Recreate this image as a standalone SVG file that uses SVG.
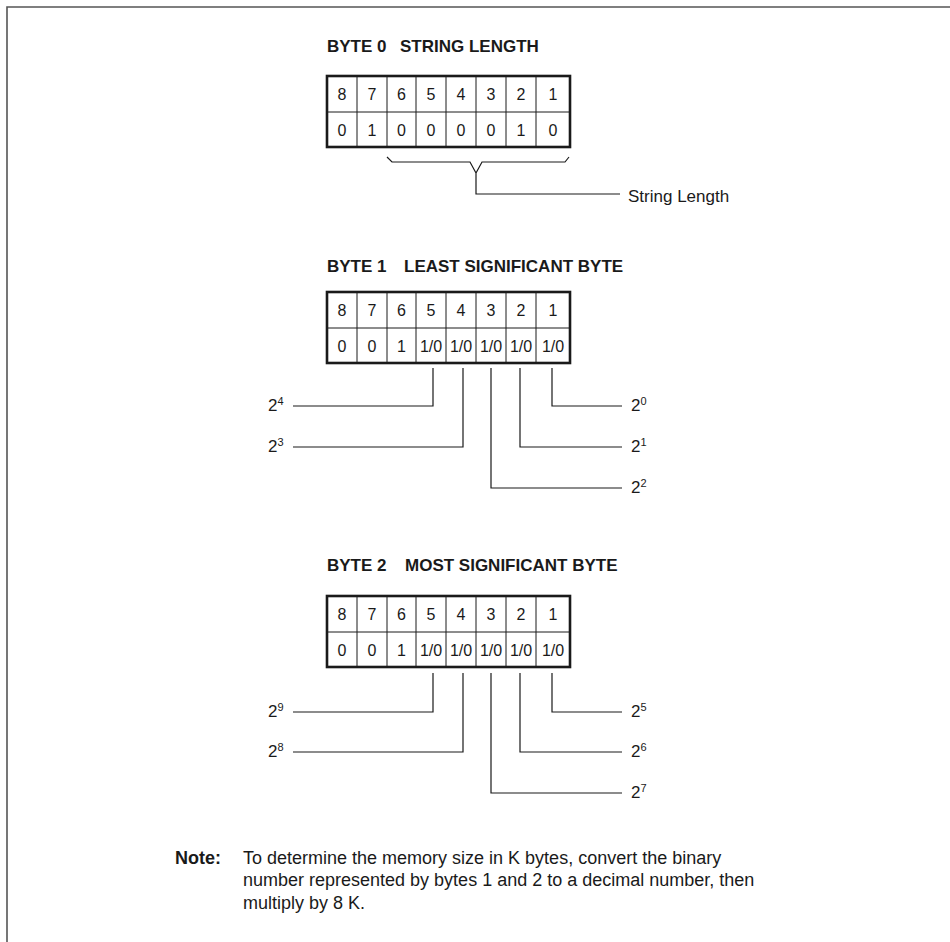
<svg xmlns="http://www.w3.org/2000/svg" width="950" height="942" viewBox="0 0 950 942">
<style>
text{font-family:"Liberation Sans",Arial,sans-serif;fill:#1a1a1a}
.t{font-size:17px;font-weight:bold}
.c{font-size:16px;text-anchor:middle}
.l{font-size:17px}
.n{font-size:18px}
.s{font-size:11px}
.outer{fill:none;stroke:#1a1a1a;stroke-width:2.6}
.inner{fill:none;stroke:#1a1a1a;stroke-width:1}
.ln{fill:none;stroke:#1a1a1a;stroke-width:1.2}
.frame{fill:none;stroke:#555;stroke-width:1.6}
</style>
<defs>
<g id="grid">
<path class="inner" d="M327,36H570M357,0V71M387,0V71M416,0V71M446,0V71M476,0V71M506,0V71M536,0V71"/>
<rect class="outer" x="327" y="0" width="243" height="71"/>
<text class="c" x="342" y="24">8</text><text class="c" x="372" y="24">7</text><text class="c" x="401.5" y="24">6</text><text class="c" x="431" y="24">5</text><text class="c" x="461" y="24">4</text><text class="c" x="491" y="24">3</text><text class="c" x="521" y="24">2</text><text class="c" x="553" y="24">1</text>
</g>
</defs>
<path class="frame" d="M7,942V7H950"/>

<g id="byte0">
<text class="t" x="327" y="52">BYTE 0<tspan x="400">STRING LENGTH</tspan></text>
<use href="#grid" y="76"/>
<g transform="translate(0,76)">
<text class="c" x="342" y="60">0</text><text class="c" x="372" y="60">1</text><text class="c" x="401.5" y="60">0</text><text class="c" x="431" y="60">0</text><text class="c" x="461" y="60">0</text><text class="c" x="491" y="60">0</text><text class="c" x="521" y="60">1</text><text class="c" x="553" y="60">0</text>
</g>
</g>

<g id="byte1">
<text class="t" x="327" y="272">BYTE 1<tspan x="404">LEAST SIGNIFICANT BYTE</tspan></text>
<use href="#grid" y="292"/>
<g transform="translate(0,292)">
<text class="c" x="342" y="60">0</text><text class="c" x="372" y="60">0</text><text class="c" x="401.5" y="60">1</text><text class="c" x="431" y="60">1/0</text><text class="c" x="461" y="60">1/0</text><text class="c" x="491" y="60">1/0</text><text class="c" x="521" y="60">1/0</text><text class="c" x="553" y="60">1/0</text>
</g>
</g>

<g id="byte2">
<text class="t" x="327" y="571">BYTE 2<tspan x="405">MOST SIGNIFICANT BYTE</tspan></text>
<use href="#grid" y="596"/>
<g transform="translate(0,596)">
<text class="c" x="342" y="60">0</text><text class="c" x="372" y="60">0</text><text class="c" x="401.5" y="60">1</text><text class="c" x="431" y="60">1/0</text><text class="c" x="461" y="60">1/0</text><text class="c" x="491" y="60">1/0</text><text class="c" x="521" y="60">1/0</text><text class="c" x="553" y="60">1/0</text>
</g>
</g>

<g id="labels">
<text class="l" x="628" y="202">String Length</text>
<text class="l" x="268" y="411">2<tspan class="s" dy="-6">4</tspan></text>
<text class="l" x="268" y="452">2<tspan class="s" dy="-6">3</tspan></text>
<text class="l" x="631" y="411">2<tspan class="s" dy="-6">0</tspan></text>
<text class="l" x="631" y="452">2<tspan class="s" dy="-6">1</tspan></text>
<text class="l" x="631" y="493">2<tspan class="s" dy="-6">2</tspan></text>
<text class="l" x="268" y="717">2<tspan class="s" dy="-6">9</tspan></text>
<text class="l" x="268" y="757">2<tspan class="s" dy="-6">8</tspan></text>
<text class="l" x="631" y="717">2<tspan class="s" dy="-6">5</tspan></text>
<text class="l" x="631" y="757">2<tspan class="s" dy="-6">6</tspan></text>
<text class="l" x="631" y="798">2<tspan class="s" dy="-6">7</tspan></text>
</g>

<g id="connectors">
<path class="ln" d="M387,157L392,162H470L476,173L482,162H565L569,157M476,173V194H620"/>
<path class="ln" d="M433,368V406H293M463,368V447H293M491,368V488H622M520,368V447H622M552,368V406H622"/>
<path class="ln" d="M433,673V712H293M463,673V752H293M491,673V793H622M520,673V752H622M552,673V712H622"/>
</g>

<g id="note">
<text class="n" x="175" y="864"><tspan font-weight="bold">Note:</tspan><tspan x="243">To determine the memory size in K bytes, convert the binary</tspan></text>
<text class="n" x="243" y="886">number represented by bytes 1 and 2 to a decimal number, then</text>
<text class="n" x="243" y="909">multiply by 8 K.</text>
</g>
</svg>
